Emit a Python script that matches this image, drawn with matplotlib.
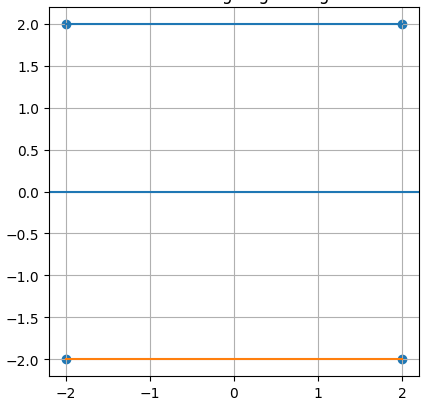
import matplotlib
matplotlib.use("Agg")
import matplotlib.pyplot as plt

# segment end points
top_x = [-2, 2]
top_y = [2, 2]
bottom_x = [-2, 2]
bottom_y = [-2, -2]
baseline_y = 0

# markers at the corners
pts_x = [-2, 2, -2, 2]
pts_y = [2, 2, -2, -2]

title_text = "Lines along edge using"


def main():
    fig = plt.figure(figsize=(4.35, 4.1), dpi=100)
    ax = fig.add_axes([49 / 435, 33 / 410, 370 / 435, 369 / 410])

    ax.plot(top_x, top_y)
    ax.plot(bottom_x, bottom_y)
    ax.axhline(baseline_y, color="C0")
    ax.scatter(pts_x, pts_y)

    ax.set_xlim(-2.2, 2.2)
    ax.set_ylim(-2.2, 2.2)
    ax.set_xticks([-2, -1, 0, 1, 2])
    ax.set_yticks([-2.0, -1.5, -1.0, -0.5, 0.0, 0.5, 1.0, 1.5, 2.0])
    ax.grid(True)
    ax.set_title(title_text)

    fig.savefig("out.png", dpi=100)


if __name__ == "__main__":
    main()
